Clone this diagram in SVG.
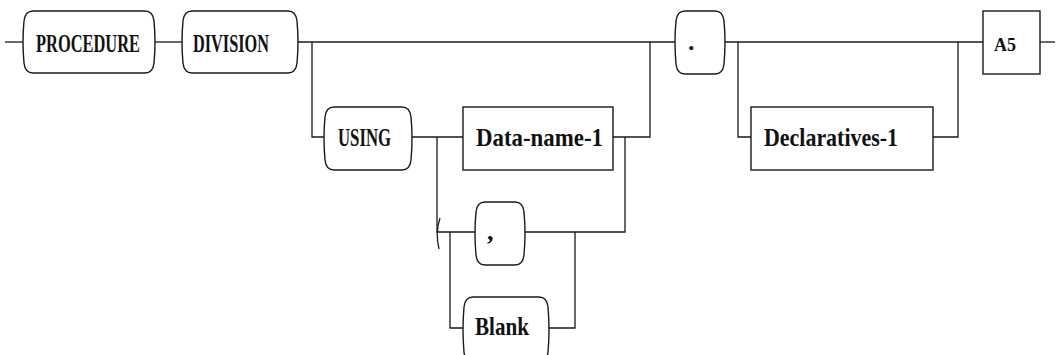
<svg xmlns="http://www.w3.org/2000/svg" width="1060" height="355" viewBox="0 0 1060 355">
<style>
.b{fill:#fff;stroke:#1a1a1a;stroke-width:1.4}
.c{fill:none;stroke:#1a1a1a;stroke-width:1.3}
.t{font-family:"Liberation Serif","DejaVu Serif",serif;font-weight:bold;font-size:26px;fill:#111}
</style>
<rect width="1060" height="355" fill="#fff"/>
<g id="connectors" class="c">
<path d="M5 42H23"/>
<path d="M155 42H182"/>
<path d="M298 42H675"/>
<path d="M312 42V137H324"/>
<path d="M412 137H463"/>
<path d="M613 137H650V42"/>
<path d="M437 137V232H475"/>
<path d="M525 232H625V137"/>
<path d="M450 232V328H463"/>
<path d="M549 328H575V232"/>
<path d="M725 42H983"/>
<path d="M738 42V137H751"/>
<path d="M933 137H958V42"/>
<path d="M1040 42H1055"/>
<path d="M440 218Q435 233 439 249"/>
</g>
<g id="procedure">
<path class="b" d="M33 11H145Q153 11 154 21Q156 42 154 63Q153 73 145 73H33Q25 73 24 63Q22 42 24 21Q25 11 33 11Z"/>
<text class="t" x="36" y="52" textLength="104" lengthAdjust="spacingAndGlyphs">PROCEDURE</text>
</g>
<g id="division">
<path class="b" d="M192 11H288Q296 11 297 21Q299 42 297 63Q296 73 288 73H192Q184 73 183 63Q181 42 183 21Q184 11 192 11Z"/>
<text class="t" x="193" y="52" textLength="76" lengthAdjust="spacingAndGlyphs">DIVISION</text>
</g>
<g id="using">
<path class="b" d="M334 107H402Q410 107 411 117Q413 138 411 160Q410 170 402 170H334Q326 170 325 160Q323 138 325 117Q326 107 334 107Z"/>
<text class="t" x="338" y="146" textLength="53" lengthAdjust="spacingAndGlyphs">USING</text>
</g>
<g id="dataname1">
<rect class="b" x="463" y="107" width="150" height="63"/>
<text class="t" x="476" y="146" textLength="127" lengthAdjust="spacingAndGlyphs">Data-name-1</text>
</g>
<g id="comma">
<path class="b" d="M485 202H515Q523 202 524 212Q526 233 524 255Q523 265 515 265H485Q477 265 476 255Q474 233 476 212Q477 202 485 202Z"/>
<text class="t" x="487" y="240">,</text>
</g>
<g id="blank">
<path class="b" d="M473 297H539Q547 297 548 307Q550 330 548 352Q547 362 539 362H473Q465 362 464 352Q462 330 464 307Q465 297 473 297Z"/>
<text class="t" x="475" y="335" textLength="54" lengthAdjust="spacingAndGlyphs">Blank</text>
</g>
<g id="period">
<path class="b" d="M685 11H715Q723 11 724 21Q726 42 724 64Q723 74 715 74H685Q677 74 676 64Q674 42 676 21Q677 11 685 11Z"/>
<text class="t" x="688" y="50">.</text>
</g>
<g id="declaratives1">
<rect class="b" x="751" y="107" width="182" height="63"/>
<text class="t" x="764" y="146" textLength="134" lengthAdjust="spacingAndGlyphs">Declaratives-1</text>
</g>
<g id="a5">
<rect class="b" x="983" y="11" width="57" height="63"/>
<text class="t" x="994" y="51" style="font-size:19px" textLength="22" lengthAdjust="spacingAndGlyphs">A5</text>
</g>
</svg>
